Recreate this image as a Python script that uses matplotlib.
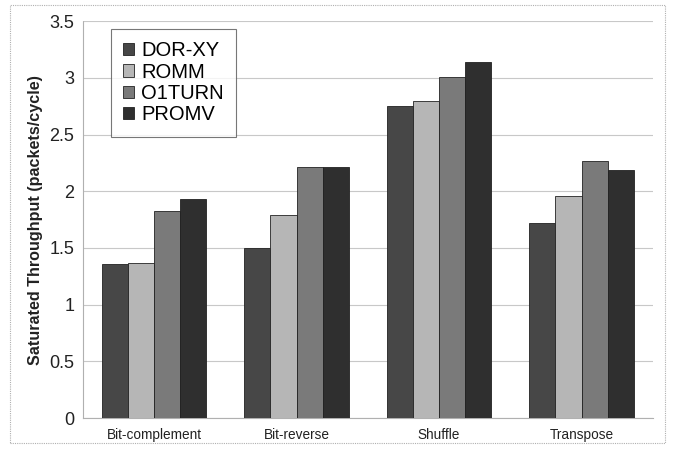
import matplotlib
matplotlib.use("Agg")
import matplotlib.pyplot as plt
import numpy as np
from matplotlib.patches import Rectangle

plt.rcParams['font.family'] = ['Liberation Sans', 'DejaVu Sans']

categories = ["Bit-complement", "Bit-reverse", "Shuffle", "Transpose"]
series_names = ["DOR-XY", "ROMM", "O1TURN", "PROMV"]
dor_xy = [1.36, 1.50, 2.75, 1.72]
romm = [1.37, 1.79, 2.80, 1.96]
o1turn = [1.83, 2.21, 3.01, 2.27]
promv = [1.93, 2.21, 3.14, 2.19]
colors = ["#474747", "#b6b6b6", "#7a7a7a", "#2f2f2f"]
y_ticks = [0, 0.5, 1, 1.5, 2, 2.5, 3, 3.5]
y_tick_labels = ["0", "0.5", "1", "1.5", "2", "2.5", "3", "3.5"]

fig = plt.figure(figsize=(6.73, 4.51), dpi=100)
ax = fig.add_axes([0.123, 0.073, 0.847, 0.880])

x = np.arange(len(categories))
width = 0.183
all_series = [dor_xy, romm, o1turn, promv]
for i, (vals, name, c) in enumerate(zip(all_series, series_names, colors)):
    ax.bar(x + (i - 1.5) * width, vals, width, color=c, edgecolor="#222222",
           linewidth=0.6, label=name, zorder=3)

ax.set_xlim(-0.5, len(categories) - 0.5)
ax.set_ylim(0, 3.5)
ax.set_yticks(y_ticks)
ax.set_yticklabels(y_tick_labels, fontsize=13, color="#222222")
ax.set_xticks(x)
ax.set_xticklabels(categories, fontsize=9.8, color="#222222")
ax.tick_params(axis="both", length=0)
ax.tick_params(axis="y", pad=6)
ax.tick_params(axis="x", pad=7)
ax.yaxis.grid(True, color="#c8c8c8", linewidth=0.8, zorder=0)
ax.set_axisbelow(True)

for side in ["top", "right"]:
    ax.spines[side].set_visible(False)
ax.spines["left"].set_color("#b0b0b0")
ax.spines["left"].set_linestyle((0, (1, 1)))
ax.spines["left"].set_linewidth(0.8)
ax.spines["bottom"].set_color("#b0b0b0")
ax.spines["bottom"].set_linewidth(0.8)

ax.set_ylabel("Saturated Throughput (packets/cycle)", fontsize=11.6, fontweight="bold",
              color="#222222", labelpad=5)

leg = ax.legend(loc="upper left", bbox_to_anchor=(0.05, 0.98), fontsize=14.5,
                frameon=True, fancybox=False, edgecolor="#555555",
                handlelength=0.55, handleheight=0.55, handletextpad=0.35,
                labelspacing=0.12, borderpad=0.6, borderaxespad=0.0)
leg.get_frame().set_linewidth(0.8)

# dotted border around the whole chart
fig.patches.append(Rectangle((0.015, 0.018), 0.973, 0.97, transform=fig.transFigure,
                             fill=False, edgecolor="#b0b0b0", linewidth=0.8,
                             linestyle=(0, (1, 1))))

fig.savefig("out.png", dpi=100)
